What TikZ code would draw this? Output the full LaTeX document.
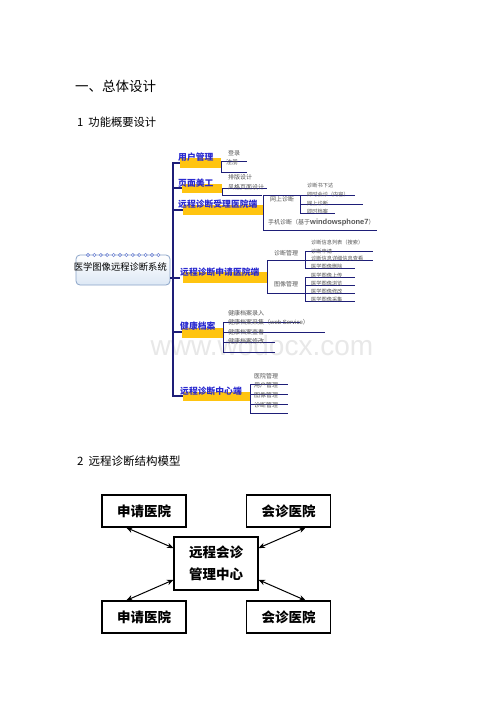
\documentclass[tikz,border=0pt]{standalone}
\usepackage{fontspec}
\setmainfont{Noto Sans CJK SC}
\newfontfamily\lat{Liberation Sans}
\usetikzlibrary{arrows.meta}
\definecolor{navy}{HTML}{1E1E78}
\definecolor{lblue}{HTML}{2A2AD0}
\definecolor{gold}{HTML}{FFC410}
\definecolor{leafgray}{HTML}{555555}
\definecolor{boxedge}{HTML}{8AA4C8}
\definecolor{boxfill}{HTML}{DDE8F5}
\begin{document}
\begin{tikzpicture}[x=1pt,y=-1pt,
  br/.style={text=lblue, font=\fontsize{8.8}{9}\selectfont\bfseries, inner sep=0, anchor=west},
  leaf/.style={text=leafgray, font=\fontsize{6}{6}\selectfont, inner sep=0, anchor=west, text height=4.6, text depth=0.6},
  leafs/.style={text=leafgray, font=\fontsize{5.2}{5.2}\selectfont, inner sep=0, anchor=west, text height=4, text depth=0.5},
  hl/.style={fill=gold},
  trunk/.style={draw=navy, line width=1.3},
  ln/.style={draw=navy, line width=0.8},
  head/.style={inner sep=0, anchor=west},
  hbox/.style={draw, line width=1.1, minimum width=84, minimum height=32, font=\fontsize{13.5}{14}\selectfont\bfseries, inner sep=0},
  dbl/.style={{Stealth[length=6.5,width=5.5]}-{Stealth[length=6.5,width=5.5]}, line width=1}]
\useasboundingbox (0,0) rectangle (500,706);
\fill[white] (0,0) rectangle (500,706);

% headings
\node[head, font=\fontsize{13.5}{14}\selectfont] (h1) at (75,86) {一、总体设计};
\node[head, font=\fontsize{11.3}{12}\selectfont] (h2) at (77,122) {1\hspace{5pt}功能概要设计};
\node[head, font=\fontsize{11.5}{12}\selectfont] (h3) at (77,461) {2\hspace{5pt}远程诊断结构模型};

% watermark
\node[text=black!9, font=\lat\fontsize{28}{28}\selectfont, inner sep=0] (wm) at (262,345) {www.wodocx.com};

% central box
\draw[boxedge, line width=0.8, rounded corners=4, top color=white, bottom color=boxfill] (76,255) rectangle (170,285);
\foreach \i in {0,...,11} \draw[boxedge!80!blue, fill=white, line width=0.6] (88+\i*6.4,255) circle (1.6);
\node[inner sep=0, anchor=east, font=\fontsize{9.3}{10}\selectfont] (root) at (167,267) {医学图像远程诊断系统};

% trunk
\draw[trunk] (180,163) -- (173,163) -- (173,396) -- (183,396);
\draw[trunk] (170,278) -- (180,278);
\draw[trunk] (173,188) -- (182,188);
\draw[trunk] (173,210) -- (183,210);
\draw[trunk] (173,332) -- (182,332);

% B1 用户管理
\fill[hl] (180,158) rectangle (221,168);
\node[br] (b1) at (178,157) {用户管理};
\draw[ln] (221,161) -- (221,172);
\draw[ln] (221,161) -- (247,161);
\draw[ln] (221,172) -- (247,172);
\node[leaf] (b1a) at (228,153) {登录};
\node[leaf] (b1b) at (226,162) {注册};

% B2 页面美工
\fill[hl] (182,184) rectangle (222,193);
\node[br] (b2) at (178,183) {页面美工};
\draw[ln] (222,188) -- (222,195);
\draw[ln] (222,188) -- (267,188);
\draw[ln] (222,195) -- (262,195);
\node[leaf] (b2a) at (228,177) {排版设计};
\node[leaf] (b2b) at (228,187) {风格页面设计};

% B3 远程诊断受理医院端
\fill[hl] (183,205) rectangle (263,215);
\node[br] (b3) at (178,204) {远程诊断受理医院端};
\draw[ln] (263,195) -- (263,230);
\draw[ln] (263,195) -- (355,195);
\draw[ln] (263,230) -- (377,230);
\node[leaf] (b3a) at (270,199) {网上诊断};
\node[leaf] (b3b) at (268,222) {手机诊断（基于{\lat\bfseries\fontsize{7.5}{8}\selectfont windowsphone7}）};
\draw[ln] (300,195) -- (300,213);
\draw[ln] (300,204) -- (363,204);
\draw[ln] (300,213) -- (335,213);
\node[leafs] (b3a1) at (307,186) {诊断书下达};
\node[leafs] (b3a2) at (307,195) {即时会诊（内容）};
\node[leafs] (b3a3) at (307,204) {网上诊断};
\node[leafs] (b3a4) at (307,212) {即时档案};

% B4 远程诊断申请医院端
\fill[hl] (183,272) rectangle (267,283);
\node[br] (b4) at (180,272) {远程诊断申请医院端};
\draw[ln] (267,260) -- (267,293);
\draw[ln] (267,260) -- (373,260);
\draw[ln] (267,293) -- (355,293);
\node[leaf] (b4a) at (274,253) {诊断管理};
\node[leaf] (b4b) at (274,284) {图像管理};
\draw[ln] (305,251) -- (305,268);
\draw[ln] (305,251) -- (373,251);
\draw[ln] (305,268) -- (355,268);
\node[leafs] (b4a1) at (311,243) {诊断信息列表（搜索）};
\node[leafs] (b4a2) at (311,251.5) {诊断申请};
\node[leafs] (b4a3) at (311,259) {诊断信息详细信息查看};
\node[leafs] (b4a4) at (311,267) {医学图像删除};
\draw[ln] (305,277) -- (305,301);
\draw[ln] (305,277) -- (355,277);
\draw[ln] (305,285) -- (355,285);
\draw[ln] (305,301) -- (355,301);
\node[leafs] (b4b1) at (311,276) {医学图像上传};
\node[leafs] (b4b2) at (311,284) {医学图像浏览};
\node[leafs] (b4b3) at (311,292) {医学图像修改};
\node[leafs] (b4b4) at (311,300) {医学图像采集};

% B5 健康档案
\fill[hl] (182,328) rectangle (223,338);
\node[br] (b5) at (180,326) {健康档案};
\draw[ln] (223,322) -- (223,352);
\draw[ln] (223,322) -- (300,322);
\draw[ln] (223,332) -- (325,332);
\draw[ln] (223,342) -- (275,342);
\draw[ln] (223,352) -- (275,352);
\node[leaf] (b5a) at (228,313) {健康档案录入};
\node[leaf] (b5b) at (228,322.5) {健康档案采集（{\lat web Service}）};
\node[leaf] (b5c) at (228,332) {健康档案查看};
\node[leaf] (b5d) at (228,341.5) {健康档案修改};

% B6 远程诊断中心端
\fill[hl] (183,392) rectangle (250,401);
\node[br] (b6) at (180,391) {远程诊断中心端};
\draw[ln] (250,384) -- (250,413);
\draw[ln] (250,384) -- (288,384);
\draw[ln] (250,394) -- (288,394);
\draw[ln] (250,404) -- (288,404);
\draw[ln] (250,413) -- (288,413);
\node[leaf] (b6a) at (254,376) {医院管理};
\node[leaf] (b6b) at (254,385) {用户管理};
\node[leaf] (b6c) at (254,395) {图像管理};
\node[leaf] (b6d) at (254,405) {诊断管理};

% structure model
\node[hbox] (tl) at (144,511) {申请医院};
\node[hbox] (tr) at (288.5,511) {会诊医院};
\node[hbox, minimum height=53, align=center, font=\fontsize{13.5}{22}\selectfont\bfseries] (c) at (216,563.5) {远程会诊\\管理中心};
\node[hbox] (bl) at (144,617) {申请医院};
\node[hbox] (brr) at (288.5,617) {会诊医院};
\draw[dbl] (tl.223) -- (c.160);
\draw[dbl] (tr.316) -- (c.20);
\draw[dbl] (bl.137) -- (c.201);
\draw[dbl] (brr.44) -- (c.339);
\end{tikzpicture}
\end{document}
